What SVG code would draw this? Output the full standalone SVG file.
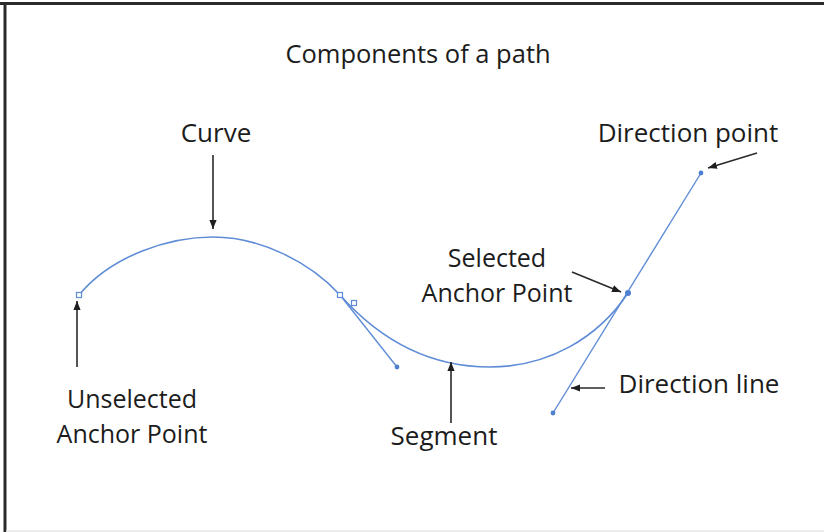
<svg xmlns="http://www.w3.org/2000/svg" width="824" height="532" viewBox="0 0 824 532">
  <defs>
    <marker id="arrow" viewBox="0 0 10 10" refX="10" refY="5" markerWidth="9" markerHeight="9" markerUnits="userSpaceOnUse" orient="auto">
      <path d="M0,1 L10,5 L0,9 Z" fill="#1f1f1f"/>
    </marker>
  </defs>
  <style>
    text { font-family: "Open Sans", "Liberation Sans", sans-serif; font-size: 26px; fill: #1c1c1c; }
    .title { font-size: 25.5px; }
    .two-line { font-size: 25px; }
    .path { fill: none; stroke: #5f8cd6; stroke-width: 1.6; }
    .handle { fill: none; stroke: #5f8cd6; stroke-width: 1.4; }
    .anchor-open { fill: #fff; stroke: #5f8cd6; stroke-width: 1.2; }
    .anchor-fill { fill: #4f7fd0; }
    .pointer { stroke: #2a2a2a; stroke-width: 1.6; fill: none; marker-end: url(#arrow); }
  </style>

  <rect width="824" height="532" fill="#fff"/>
  <!-- frame -->
  <line x1="0" y1="3.5" x2="824" y2="3.5" stroke="#2b2b2b" stroke-width="3"/>
  <line x1="5" y1="2" x2="5" y2="532" stroke="#2b2b2b" stroke-width="3"/>
  <line x1="6" y1="531" x2="824" y2="531" stroke="#e6e6e6" stroke-width="1.5"/>

  <text class="title" x="418" y="63" text-anchor="middle">Components of a path</text>

  <!-- the path and its handles -->
  <g id="path-shape">
    <path class="path" d="M79,295 C112,255 170,237 213,237 C260,237 310,262 340,295 C380,340 430,367 490,367 C548,367 598,338 628,293"/>
    <line class="handle" x1="340" y1="295" x2="397" y2="367"/>
    <line class="handle" x1="553" y1="413" x2="701" y2="173"/>
  </g>

  <g id="unselected-anchor">
    <rect class="anchor-open" x="76.5" y="292.5" width="5" height="5"/>
  </g>
  <g id="middle-anchors">
    <rect class="anchor-open" x="337.5" y="292.5" width="5" height="5"/>
    <rect class="anchor-open" x="351.5" y="300.5" width="5" height="5"/>
    <circle class="anchor-fill" cx="397" cy="367" r="2.4"/>
  </g>
  <g id="selected-anchor">
    <circle class="anchor-fill" cx="628" cy="293" r="3"/>
  </g>
  <g id="direction-points">
    <circle class="anchor-fill" cx="701" cy="173" r="2.4"/>
    <circle class="anchor-fill" cx="553" cy="413" r="2.4"/>
  </g>

  <!-- callout arrows -->
  <g id="connectors">
    <line class="pointer" x1="213" y1="155" x2="213" y2="229"/>
    <line class="pointer" x1="77" y1="367" x2="77" y2="301"/>
    <line class="pointer" x1="451" y1="423" x2="451" y2="362"/>
    <line class="pointer" x1="572" y1="272" x2="621" y2="292"/>
    <line class="pointer" x1="757" y1="153" x2="708" y2="168"/>
    <line class="pointer" x1="605" y1="388" x2="571" y2="388"/>
  </g>

  <g id="labels">
    <text x="216" y="142" text-anchor="middle">Curve</text>
    <text x="688" y="142" text-anchor="middle">Direction point</text>
    <text class="two-line" x="497" y="267" text-anchor="middle">Selected<tspan x="497" dy="34.5">Anchor Point</tspan></text>
    <text x="699" y="393" text-anchor="middle">Direction line</text>
    <text class="two-line" x="132" y="408" text-anchor="middle">Unselected<tspan x="132" dy="34.5">Anchor Point</tspan></text>
    <text x="444" y="445" text-anchor="middle">Segment</text>
  </g>
</svg>
